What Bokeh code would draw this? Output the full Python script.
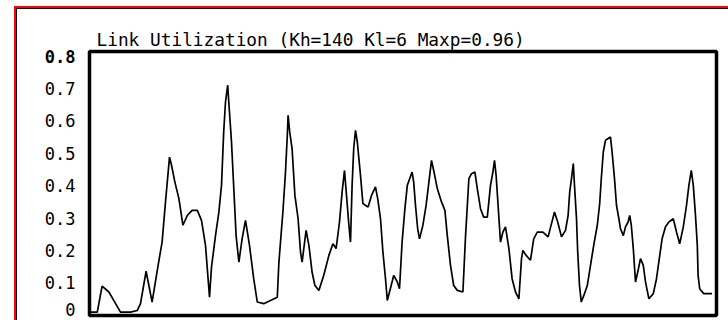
from bokeh.plotting import figure
from bokeh.models import FixedTicker, ColumnDataSource, Range1d, Label
from bokeh.embed import file_html
from bokeh.resources import INLINE

title_text = "Link Utilization (Kh=140 Kl=6 Maxp=0.96)"

tick_values = [0, 0.1, 0.2, 0.3, 0.4, 0.5, 0.6, 0.7, 0.8]
tick_labels = ["0", "0.1", "0.2", "0.3", "0.4", "0.5", "0.6", "0.7", "0.8"]

time_s = [
    0.5, 2.2, 3.4, 5.1, 6.3, 8.0, 10.5, 12.2, 13.0, 14.4,
    15.1, 15.9, 17.4, 18.4, 19.25, 20.25, 20.75, 21.6, 22.6, 23.6,
    24.7, 25.9, 27.2, 28.25, 29.25, 29.7, 30.25, 30.75, 31.75, 32.6,
    33.25, 33.8, 34.25, 34.8, 35.1, 35.75, 36.2, 36.9, 37.6, 38.4,
    39.25, 40.25, 41.3, 42.2, 43.8, 45.5, 47.2, 47.6, 48.6, 49.25,
    49.7, 49.9, 50.3, 50.9, 51.6, 52.4, 53.0, 53.4, 54.4, 55.1,
    55.9, 56.6, 57.6, 58.8, 60.1, 61.1, 61.9, 62.75, 63.4, 64.0,
    64.5, 65.1, 65.5, 65.9, 66.3, 66.75, 67.2, 68.0, 68.6, 69.9,
    70.75, 71.75, 72.3, 73.0, 73.6, 74.25, 74.7, 75.25, 76.3, 77.2,
    77.75, 78.4, 79.1, 79.7, 80.9, 81.3, 81.75, 82.3, 82.75, 83.6,
    84.4, 85.1, 85.75, 86.3, 87.2, 88.25, 89.1, 89.7, 90.5, 91.3,
    92.2, 93.6, 94.25, 95.1, 95.75, 96.6, 97.2, 98.0, 98.8, 99.7,
    100.5, 101.1, 101.5, 101.9, 102.4, 103.0, 103.6, 104.25, 105.1, 105.9,
    106.75, 107.6, 108.25, 108.6, 109.4, 110.5, 111.3, 112.2, 113.6, 114.9,
    115.75, 116.5, 117.3, 118.25, 119.25, 119.9, 120.3, 120.75, 121.2, 121.5,
    122.0, 122.3, 122.75, 123.2, 124.0, 124.7, 125.5, 126.3, 127.2, 127.8,
    128.2, 128.7, 129.25, 130.5, 130.9, 131.5, 132.0, 132.6, 133.0, 133.7,
    134.25, 134.9, 135.3, 135.7, 136.2, 136.75, 137.3, 138.0, 138.7, 139.25,
    140.1, 141.2, 142.0, 142.7, 143.4, 144.25, 145.1, 146.2, 147.0, 147.8,
    148.7, 149.5, 150.1, 150.7, 151.2, 151.75, 152.2, 152.4, 152.8, 153.8, 155.9,
]

utilization = [
    0.010, 0.010, 0.090, 0.072, 0.046, 0.010, 0.010, 0.015, 0.036, 0.136,
    0.092, 0.041, 0.154, 0.226, 0.350, 0.488, 0.463, 0.411, 0.360, 0.278,
    0.308, 0.324, 0.324, 0.293, 0.216, 0.144, 0.056, 0.149, 0.246, 0.319,
    0.401, 0.566, 0.658, 0.710, 0.653, 0.535, 0.422, 0.246, 0.164, 0.236,
    0.293, 0.216, 0.113, 0.041, 0.036, 0.046, 0.056, 0.164, 0.319, 0.442,
    0.555, 0.617, 0.566, 0.514, 0.370, 0.298, 0.196, 0.164, 0.262, 0.216,
    0.133, 0.092, 0.077, 0.123, 0.185, 0.221, 0.206, 0.288, 0.380, 0.447,
    0.370, 0.278, 0.226, 0.401, 0.514, 0.571, 0.535, 0.432, 0.345, 0.334,
    0.370, 0.396, 0.360, 0.298, 0.196, 0.113, 0.046, 0.072, 0.123, 0.103,
    0.082, 0.226, 0.329, 0.401, 0.442, 0.411, 0.339, 0.267, 0.236, 0.278,
    0.339, 0.411, 0.478, 0.447, 0.391, 0.350, 0.324, 0.246, 0.154, 0.092,
    0.077, 0.072, 0.242, 0.422, 0.437, 0.442, 0.391, 0.329, 0.303, 0.303,
    0.401, 0.442, 0.478, 0.432, 0.339, 0.226, 0.257, 0.273, 0.206, 0.113,
    0.072, 0.051, 0.175, 0.200, 0.185, 0.170, 0.236, 0.257, 0.257, 0.242,
    0.283, 0.319, 0.288, 0.242, 0.262, 0.308, 0.380, 0.422, 0.468, 0.401,
    0.298, 0.196, 0.092, 0.041, 0.067, 0.092, 0.154, 0.216, 0.278, 0.345,
    0.422, 0.504, 0.540, 0.550, 0.504, 0.422, 0.339, 0.298, 0.267, 0.246,
    0.273, 0.288, 0.308, 0.278, 0.206, 0.103, 0.133, 0.175, 0.154, 0.103,
    0.051, 0.067, 0.113, 0.175, 0.236, 0.273, 0.288, 0.298, 0.257, 0.221,
    0.273, 0.339, 0.401, 0.447, 0.401, 0.308, 0.216, 0.123, 0.082, 0.067, 0.067,
]

assert len(time_s) == len(utilization)

FONT = "DejaVu Sans Mono"
LABEL_SIZE = "17px"
LABEL_STANDOFF = 14

p = figure(
    width=728, height=320,
    output_backend="svg", toolbar_location=None,
    x_axis_location=None,
    x_range=Range1d(0.25, 157.0), y_range=Range1d(-0.0005, 0.814),
    min_border_left=89, min_border_right=12, min_border_top=51, min_border_bottom=5,
    styles={
        "background-image": "linear-gradient(#ff0000,#ff0000), linear-gradient(#ff0000,#ff0000), "
                            "linear-gradient(#000000,#000000), linear-gradient(#000000,#000000)",
        "background-size": "100% 2px, 2px 100%, 100% 1px, 1px 100%",
        "background-position": "14px 6px, 14px 6px, 16px 8px, 16px 8px",
        "background-repeat": "no-repeat",
    },
)
p.border_fill_color = None
p.background_fill_color = "white"
p.outline_line_color = "black"
p.outline_line_width = 3.5
p.grid.visible = False

p.title.text = title_text
p.title.text_font = FONT
p.title.text_font_size = "17.8px"
p.title.text_font_style = "normal"
p.title.text_color = "black"
p.title.align = "left"
p.title.offset = 7
p.title.standoff = 3

# the first and last tick labels are drawn as side-panel labels (bottom one nudged
# up to stay inside the picture, top one bold as in the reference)
overrides = {v: s for v, s in zip(tick_values, tick_labels)}
overrides[tick_values[0]] = ""
overrides[tick_values[-1]] = ""

ax = p.yaxis[0]
ax.ticker = FixedTicker(ticks=tick_values)
ax.major_label_overrides = overrides
ax.axis_line_color = None
ax.major_tick_line_color = None
ax.minor_tick_line_color = None
ax.major_tick_out = 0
ax.major_tick_in = 0
ax.minor_tick_out = 0
ax.major_label_standoff = LABEL_STANDOFF
ax.major_label_text_font = FONT
ax.major_label_text_font_size = LABEL_SIZE
ax.major_label_text_color = "black"

p.add_layout(Label(
    x=p.x_range.start, y=tick_values[0], x_offset=-LABEL_STANDOFF, y_offset=6,
    text=tick_labels[0], text_align="right", text_baseline="middle",
    text_font=FONT, text_font_size=LABEL_SIZE, text_color="black",
), "left")
p.add_layout(Label(
    x=p.x_range.start, y=tick_values[-1], x_offset=-LABEL_STANDOFF, y_offset=0,
    text=tick_labels[-1], text_align="right", text_baseline="middle",
    text_font=FONT, text_font_size=LABEL_SIZE, text_font_style="bold", text_color="black",
), "left")

src = ColumnDataSource(data=dict(t=time_s, u=utilization))
p.line("t", "u", source=src, line_color="black", line_width=1.7)

open("out.html", "w").write(file_html(p, INLINE))
